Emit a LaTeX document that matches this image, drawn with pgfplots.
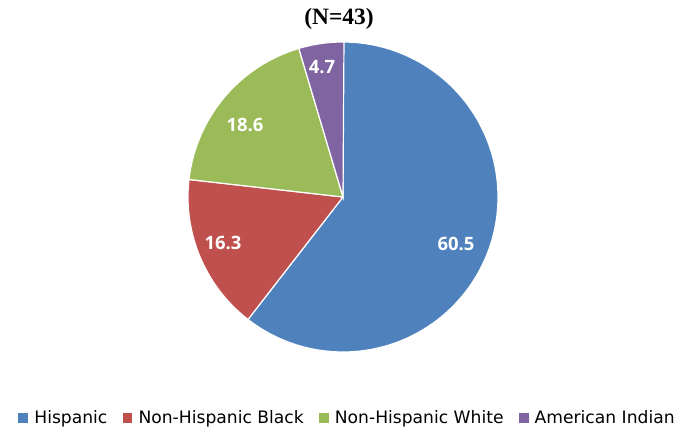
\documentclass[border=0pt]{standalone}
\usepackage{pgfplots}
\pgfplotsset{compat=1.18}
\usepackage{fontspec}
\setmainfont{DejaVu Sans}
\newfontfamily\titlefont{Liberation Serif}
\newfontfamily\labfont{Open Sans}
\definecolor{cHisp}{HTML}{4F81BD}
\definecolor{cBlack}{HTML}{C0504D}
\definecolor{cWhite}{HTML}{9BBB59}
\definecolor{cAI}{HTML}{8064A2}
% values (percent)
\def\vA{60.5}\def\vB{16.3}\def\vC{18.6}\def\vD{4.7}
\pgfmathsetmacro\aA{90}
\pgfmathsetmacro\aB{\aA-3.6*\vA}
\pgfmathsetmacro\aC{\aB-3.6*\vB}
\pgfmathsetmacro\aD{\aC-3.6*\vC}
\pgfmathsetmacro\aE{\aD-3.6*\vD}
\begin{document}
\begin{tikzpicture}
\begin{axis}[
  scale only axis, width=696bp, height=429bp,
  xmin=0, xmax=696, ymin=0, ymax=429,
  hide axis, clip=false,
  legend columns=4,
  legend style={draw=none, fill=none, font=\fontsize{17.2}{20}\selectfont,
    at={(0.497,0.026)}, anchor=center, inner sep=0pt,
    nodes={inner xsep=0pt, inner ysep=0pt},
    /tikz/every odd column/.append style={column sep=5bp},
    /tikz/every even column/.append style={column sep=14bp}},
  legend image code/.code={\fill[#1] (0bp,-5.5bp) rectangle (11bp,5.5bp);},
]
\addplot[fill=cHisp, draw=white, line width=1.2pt, domain=\aA:\aB, samples=120]
  ({343+155*cos(x)},{232+155*sin(x)}) -- (axis cs:343,232) -- cycle;
\addlegendentry{Hispanic}
\addplot[fill=cBlack, draw=white, line width=1.2pt, domain=\aB:\aC, samples=60]
  ({343+155*cos(x)},{232+155*sin(x)}) -- (axis cs:343,232) -- cycle;
\addlegendentry{Non-Hispanic Black}
\addplot[fill=cWhite, draw=white, line width=1.2pt, domain=\aC:\aD, samples=60]
  ({343+155*cos(x)},{232+155*sin(x)}) -- (axis cs:343,232) -- cycle;
\addlegendentry{Non-Hispanic White}
\addplot[fill=cAI, draw=white, line width=1.2pt, domain=\aD:\aE, samples=30]
  ({343+155*cos(x)},{232+155*sin(x)}) -- (axis cs:343,232) -- cycle;
\addlegendentry{American Indian}
\node[text=white, font=\labfont\bfseries\fontsize{18.5}{20}\selectfont] at (axis cs:456,185) {60.5};
\node[text=white, font=\labfont\bfseries\fontsize{18.5}{20}\selectfont] at (axis cs:223,186) {16.3};
\node[text=white, font=\labfont\bfseries\fontsize{18.5}{20}\selectfont] at (axis cs:245,304) {18.6};
\node[text=white, font=\labfont\bfseries\fontsize{18.5}{20}\selectfont] at (axis cs:322,362) {4.7};
\node[font=\titlefont\bfseries\fontsize{23.5}{26}\selectfont] at (axis cs:339,410) {(N=43)};
\end{axis}
\pgfresetboundingbox
\path[use as bounding box] (current axis.south west) rectangle (current axis.north east);
\end{tikzpicture}
\end{document}
